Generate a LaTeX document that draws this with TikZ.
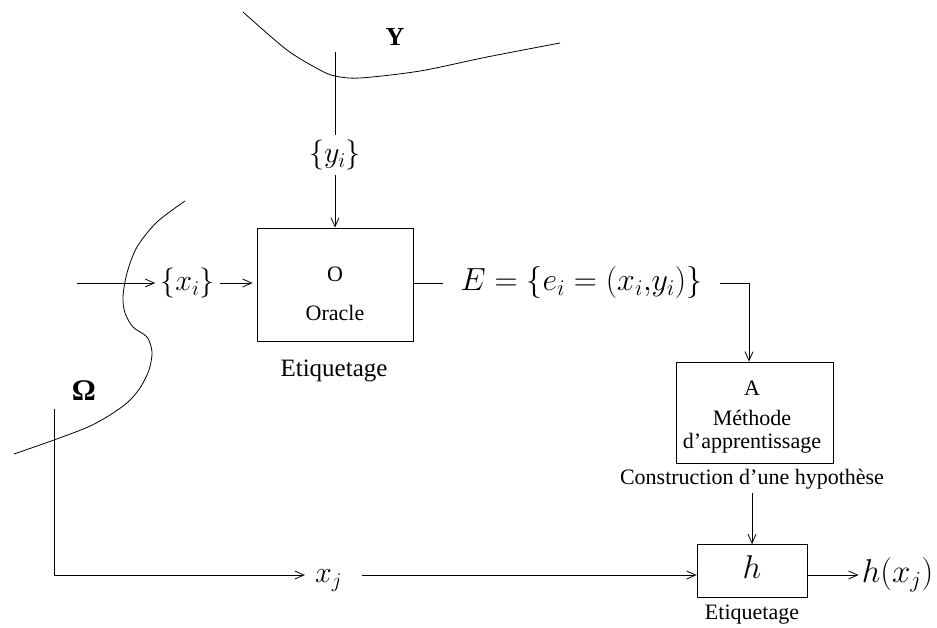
\RequirePackage{fix-cm}
\documentclass[tikz,border=0pt]{standalone}
\usepackage[no-math]{fontspec}
\setmainfont{Liberation Serif}
\usetikzlibrary{arrows.meta}
\begin{document}
\begin{tikzpicture}[x=1pt,y=-1pt,
  ln/.style={line width=0.8pt},
  arr/.style={ln,-{Straight Barb[length=9pt,width=8pt]}},
  box/.style={draw,line width=0.8pt,inner sep=0pt},
  mth/.style={inner ysep=0pt,inner xsep=0pt,text height=22.5pt,text depth=7.5pt,font=\fontsize{30}{36}\selectfont},
  lbl/.style={inner sep=0pt,anchor=base,font=\fontsize{22}{26}\selectfont},
]
\useasboundingbox (0,0) rectangle (937,627);

% boundary curves
\draw[ln] plot[smooth] coordinates {(243,12) (287,50) (320,70) (335,76) (360,78) (420,71) (487,57) (560,43)};
\draw[ln] plot[smooth] coordinates {(185,201) (157,222) (137,247) (127,273) (123,297) (125,313) (133,327) (147,337) (152,352) (149,370) (140,388) (128,402) (110,415) (88,427) (54,440) (14,454)};

% labels of sets
\node[lbl,font=\fontsize{26}{30}\selectfont\bfseries] (Y) at (395,45) {Y};
\node[lbl,font=\fontsize{30}{34}\selectfont\bfseries] (omega) at (84,400) {Ω};

% Oracle box
\node[box,minimum width=156pt,minimum height=113pt] (oracle) at (335,284.5) {};
\node[lbl] (otxt) at (335,281) {O};
\node[lbl] (oracletxt) at (335,320) {Oracle};
\node[lbl,font=\fontsize{25}{30}\selectfont] (et1) at (334,376) {Etiquetage};

% y_i input
\coordinate (ytop) at (335,52);
\node[mth,inner ysep=5pt] (yi) at (335,155) {$\{y_i\}$};
\draw[ln] (ytop) -- (yi.north);
\draw[arr] (yi.south) -- (oracle.north);

% x_i input
\coordinate (xin) at (77,283);
\node[mth,inner xsep=5pt] (xi) at (187.5,283) {$\{x_i\}$};
\draw[arr] (xin) -- (xi.west);
\draw[arr,shorten >=4pt] (xi.east) -- (xi.east -| oracle.west);

% E
\node[mth,inner xsep=17pt,font=\fontsize{32}{38}\selectfont] (E) at (581.5,283) {$E=\{e_i=(x_i{,}y_i)\}$};
\draw[ln] (oracle.east |- E.west) -- (E.west);

% A box
\node[box,minimum width=157pt,minimum height=101pt] (A) at (754.5,412.5) {};
\node[lbl] (atxt) at (752,395) {A};
\node[lbl] (meth) at (752,425) {Méthode};
\node[lbl] (appr) at (752,448) {d’apprentissage};
\node[lbl] (constr) at (752,484) {Construction d’une hypothèse};
\draw[arr] (E.east) -| ([xshift=-5.5pt]A.north);

% h box
\node[box,mth,font=\fontsize{33}{38}\selectfont,minimum width=110pt,minimum height=53pt] (hbox) at (752,571) {$h$};
\node[lbl] (et2) at (752,619) {Etiquetage};
\draw[arr,shorten <=4pt] (constr.south -| hbox.north) -- (hbox.north);

% x_j path
\coordinate (om) at (54,409);
\node[mth] (xj) at (328.5,575) {$x_j$};
\draw[arr,shorten >=10pt] (om) |- (xj.west);
\draw[arr] ([xshift=20pt]xj.east) -- (xj.east -| hbox.west);

% output
\node[mth,inner xsep=3pt,font=\fontsize{33}{38}\selectfont] (hx) at (897.5,575) {$h(x_j)$};
\draw[arr] (hbox.east |- hx.west) -- (hx.west);
\end{tikzpicture}
\end{document}
